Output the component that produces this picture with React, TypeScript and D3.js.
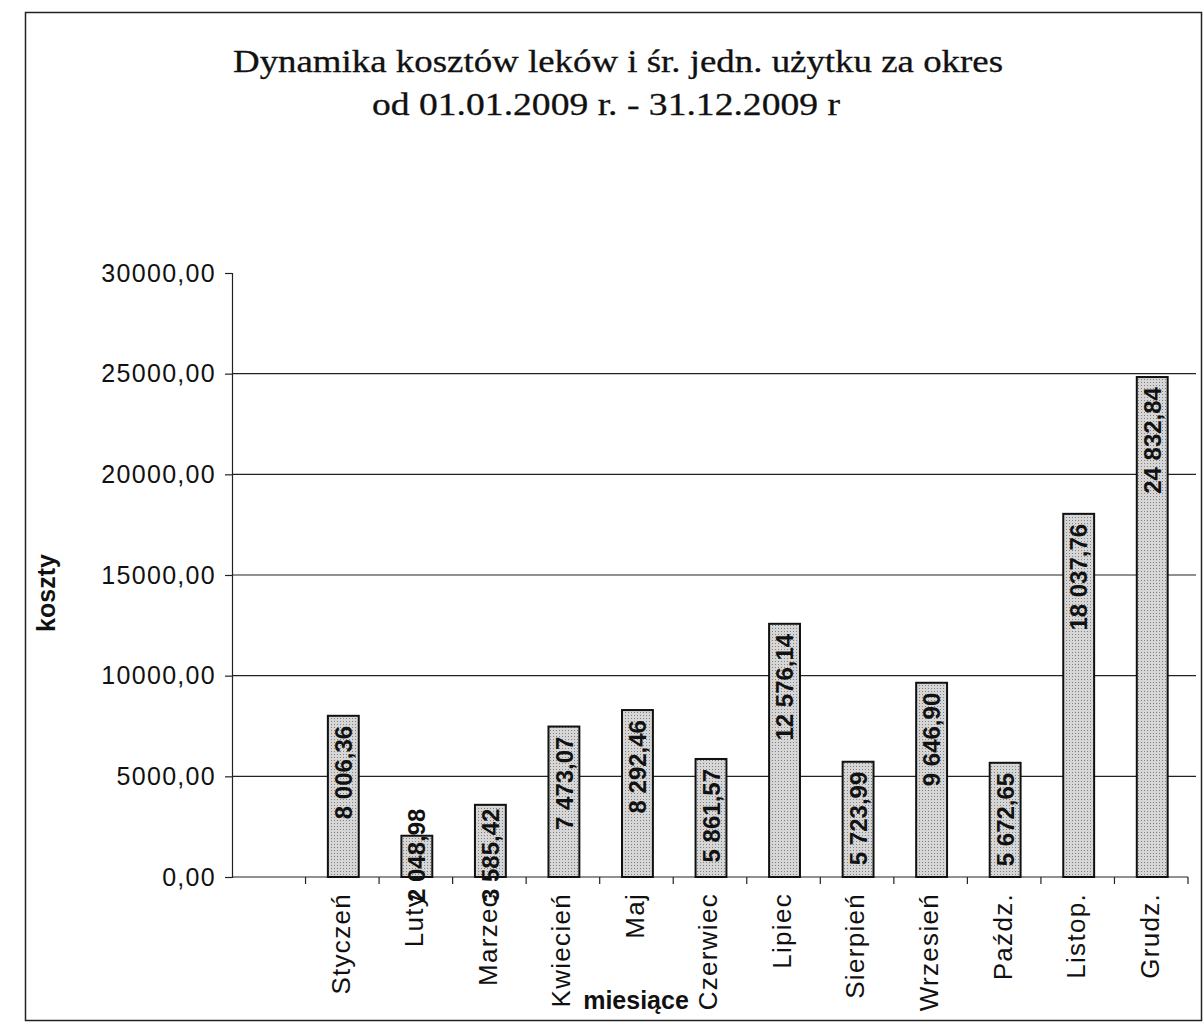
import React, { useEffect, useRef } from 'react'
import * as d3 from 'd3'

// dane z wykresu
const months = ['', 'Styczeń', 'Luty', 'Marzec', 'Kwiecień', 'Maj', 'Czerwiec', 'Lipiec', 'Sierpień', 'Wrzesień', 'Paźdz.', 'Listop.', 'Grudz.']
const costs = [null, 8006.36, 2048.98, 3585.42, 7473.07, 8292.46, 5861.57, 12576.14, 5723.99, 9646.90, 5672.65, 18037.76, 24832.84]
const yTicks = [0, 5000, 10000, 15000, 20000, 25000, 30000]
const titleLines = ['Dynamika kosztów leków i śr. jedn. użytku za okres', 'od 01.01.2009 r. - 31.12.2009 r']

export default function App() {
    const ref = useRef<SVGSVGElement>(null)

    useEffect(() => {
        document.body.style.margin = '0'
        const svg = d3.select(ref.current)
        svg.selectAll('*').remove() // avoid duplicates on re-render

        const width = 1204
        const height = 1036
        const margin = { left: 232, right: 1188, top: 273, bottom: 877 }
        const sans = 'Arial, "Liberation Sans", sans-serif'

        const pl = d3.formatLocale({ decimal: ',', thousands: '\u00a0', grouping: [3], currency: ['', ' zł'] })
        const fmtLabel = pl.format(',.2f')
        const fmtTick = pl.format('.2f')

        const x = d3.scaleBand()
            .domain(months.map((m, i) => i + ':' + m))
            .range([margin.left, margin.right])
            .padding(0)

        const y = d3.scaleLinear()
            .domain([0, 30000])
            .range([margin.bottom, margin.top])

        svg.attr('width', width).attr('height', height)

        // tekstura słupków
        const pat = svg.append('defs').append('pattern')
            .attr('id', 'stipple')
            .attr('width', 3).attr('height', 3)
            .attr('patternUnits', 'userSpaceOnUse')
        pat.append('rect').attr('width', 3).attr('height', 3).attr('fill', '#d6d6d6')
        pat.append('rect').attr('x', 1).attr('y', 1).attr('width', 1).attr('height', 1).attr('fill', '#808080')

        svg.append('rect')
            .attr('x', 0).attr('y', 0).attr('width', width).attr('height', height)
            .attr('fill', '#fff')

        // ramka
        svg.append('rect')
            .attr('x', 25.5).attr('y', 12.5).attr('width', 1176).attr('height', 1008)
            .attr('fill', 'none').attr('stroke', '#222').attr('stroke-width', 1.5)

        // tytuł
        svg.selectAll('text.title')
            .data(titleLines)
            .join('text')
            .attr('class', 'title')
            .attr('x', (d, i) => i === 0 ? 233 : 372)
            .attr('y', (d, i) => i === 0 ? 72 : 115)
            .attr('textLength', (d, i) => i === 0 ? 770 : 468)
            .attr('lengthAdjust', 'spacingAndGlyphs')
            .attr('font-family', '"Liberation Serif", "DejaVu Serif", serif')
            .attr('font-size', 32)
            .attr('fill', '#111')
            .attr('stroke', '#111')
            .attr('stroke-width', 0.3)
            .text(d => d)

        // siatka
        svg.append('g')
            .selectAll('line')
            .data(yTicks.filter(t => t > 0 && t < 30000))
            .join('line')
            .attr('x1', margin.left).attr('x2', 1196)
            .attr('y1', d => y(d)).attr('y2', d => y(d))
            .attr('stroke', '#222').attr('stroke-width', 1.2)

        // oś Y
        const yAxis = svg.append('g')
            .attr('transform', `translate(${margin.left},0)`)
            .call(d3.axisLeft(y).tickValues(yTicks).tickSize(7).tickFormat(d => fmtTick(d as number)))
        yAxis.select('.domain').attr('stroke', '#222').attr('stroke-width', 1.2)
        yAxis.selectAll('line').attr('stroke', '#222').attr('stroke-width', 1.2)
        yAxis.selectAll('text')
            .attr('x', -16)
            .attr('font-family', sans)
            .attr('font-size', 25)
            .attr('letter-spacing', 1.3)
            .attr('fill', '#111')

        // oś X
        const xAxis = svg.append('g')
            .attr('transform', `translate(0,${margin.bottom})`)
        xAxis.append('line')
            .attr('x1', margin.left).attr('x2', margin.right)
            .attr('stroke', '#222').attr('stroke-width', 1.2)
        xAxis.selectAll('line.tick')
            .data(x.domain())
            .join('line')
            .attr('class', 'tick')
            .attr('x1', d => (x(d) as number) + x.bandwidth()).attr('x2', d => (x(d) as number) + x.bandwidth())
            .attr('y1', 0).attr('y2', 7)
            .attr('stroke', '#222').attr('stroke-width', 1.2)

        // słupki
        const bw = x.bandwidth() * 0.42
        const rows = months.map((m, i) => ({ key: i + ':' + m, name: m, value: costs[i] })).filter(d => d.value !== null)

        const bar = svg.append('g').selectAll('g')
            .data(rows)
            .join('g')

        bar.append('rect')
            .attr('x', d => (x(d.key) as number) + x.bandwidth() / 2 - bw / 2 + 1)
            .attr('y', d => y(d.value as number))
            .attr('width', bw)
            .attr('height', d => y(0) - y(d.value as number))
            .attr('fill', 'url(#stipple)')
            .attr('stroke', '#111')
            .attr('stroke-width', 2)

        // etykiety danych
        bar.append('text')
            .attr('font-family', sans)
            .attr('font-size', 24)
            .attr('font-weight', 'bold')
            .attr('fill', '#111')
            .attr('text-anchor', 'end')
            .attr('dy', '0.36em')
            .text(d => fmtLabel(d.value as number))
            .each(function (d) {
                const len = (this as SVGTextElement).getComputedTextLength()
                const cx = (x(d.key) as number) + x.bandwidth() / 2 + 1
                const top = Math.min(y(d.value as number) + 10, 902 - len)
                d3.select(this).attr('transform', `translate(${cx},${top}) rotate(-90)`)
            })

        // nazwy miesięcy
        svg.append('g').selectAll('text')
            .data(rows)
            .join('text')
            .attr('transform', d => `translate(${(x(d.key) as number) + x.bandwidth() / 2 - 2},893) rotate(-90)`)
            .attr('text-anchor', 'end')
            .attr('dy', '0.36em')
            .attr('font-family', sans)
            .attr('font-size', 26)
            .attr('letter-spacing', 1.3)
            .attr('fill', '#111')
            .text(d => d.name)

        // tytuły osi
        svg.append('text')
            .attr('transform', 'translate(55,593) rotate(-90)')
            .attr('text-anchor', 'middle')
            .attr('font-family', sans)
            .attr('font-size', 25)
            .attr('font-weight', 'bold')
            .attr('fill', '#111')
            .text('koszty')

        svg.append('text')
            .attr('x', 636).attr('y', 1009)
            .attr('text-anchor', 'middle')
            .attr('font-family', sans)
            .attr('font-size', 25)
            .attr('font-weight', 'bold')
            .attr('fill', '#111')
            .text('miesiące')
    }, [])

    return <svg ref={ref} style={{ display: 'block' }}></svg>
}
